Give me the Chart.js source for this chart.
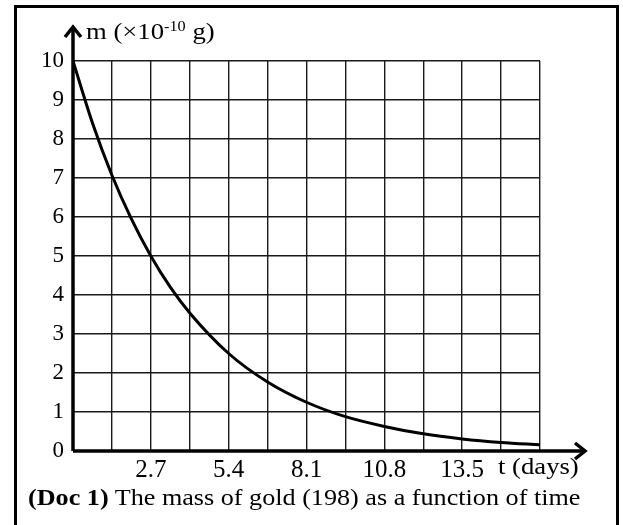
<!DOCTYPE html>
<html>
<head>
<meta charset="utf-8">
<script src="https://cdn.jsdelivr.net/npm/chart.js@4"></script>
<style>
  html, body { margin: 0; padding: 0; background: #fff; }
  body { width: 623px; height: 525px; position: relative; overflow: hidden; font-family: "Liberation Serif", serif; }
  #frame { position: absolute; left: 14px; top: 5px; width: 605px; height: 540px; box-sizing: border-box; border: 3px solid #000; }
  #myChart { position: absolute; left: 0; top: 0; }
  .lbl { position: absolute; font-size: 23px; color: #000; white-space: nowrap; transform-origin: 0 0; }
  .lbl sup { font-size: 14px; vertical-align: 0; position: relative; top: -8px; }
</style>
</head>
<body>
<div id="frame"></div>
<canvas id="myChart" width="623" height="525"></canvas>
<div class="lbl" id="yTitle" style="left:86px; top:19px; transform:scaleX(1.16);">m (×10<sup>-10</sup> g)</div>
<div class="lbl" id="xTitle" style="left:498px; top:454px; transform:scaleX(1.16);">t (days)</div>
<div class="lbl" id="caption" style="left:28px; top:484px; font-size:24px; transform:scaleX(1.09);"><b>(Doc 1)</b> The mass of gold (198) as a function of time</div>
<script>
// time in days and mass (x 10^-10 g)
const days = [0, 0.675, 1.35, 2.025, 2.7, 3.375, 4.05, 5.4, 6.75, 8.1, 9.45, 10.8, 12.15, 13.5, 14.85, 16.2];
const mass = [10, 8.41, 7.07, 5.95, 5, 4.2, 3.54, 2.5, 1.77, 1.25, 0.88, 0.63, 0.44, 0.31, 0.22, 0.16];

// grid lines every 1.35 days, labels on every second one
const xGrid = [0, 1.35, 2.7, 4.05, 5.4, 6.75, 8.1, 9.45, 10.8, 12.15, 13.5, 14.85, 16.2];
const xTickLabels = ['2.7', '5.4', '8.1', '10.8', '13.5'];
const yTicks = [0, 1, 2, 3, 4, 5, 6, 7, 8, 9, 10];

const ctx = document.getElementById('myChart');

// axis arrows sticking out of the plot area
const arrows = {
    id: 'arrows',
    afterDraw(chart) {
        const c = chart.ctx;
        const a = chart.chartArea;
        c.save();
        c.strokeStyle = '#000';
        c.lineWidth = 3.5;
        c.lineCap = 'butt';
        c.lineJoin = 'miter';
        // x axis
        c.beginPath();
        c.moveTo(a.left, a.bottom);
        c.lineTo(585, a.bottom);
        c.stroke();
        c.beginPath();
        c.moveTo(575, a.bottom - 8);
        c.lineTo(585, a.bottom);
        c.lineTo(575, a.bottom + 8);
        c.stroke();
        // y axis
        c.beginPath();
        c.moveTo(a.left, a.bottom);
        c.lineTo(a.left, 27);
        c.stroke();
        c.beginPath();
        c.moveTo(a.left - 8, 37);
        c.lineTo(a.left, 27);
        c.lineTo(a.left + 8, 37);
        c.stroke();
        c.restore();
    }
};

const myChart = new Chart(ctx, {
    type: 'line',
    data: {
        datasets: [{
            data: days.map((d, i) => ({ x: d, y: mass[i] })),
            borderColor: '#000',
            borderWidth: 3,
            pointRadius: 0,
            cubicInterpolationMode: 'monotone',
            fill: false
        }]
    },
    options: {
        responsive: false,
        animation: false,
        devicePixelRatio: 1,
        layout: { padding: { top: 61, right: 83, left: 0, bottom: 0 } },
        plugins: {
            legend: { display: false },
            tooltip: { enabled: false }
        },
        scales: {
            x: {
                type: 'linear',
                min: 0,
                max: 16.2,
                afterBuildTicks: (scale) => { scale.ticks = xGrid.map(v => ({ value: v })); },
                afterFit: (scale) => { scale.height = 74; },
                grid: { color: '#1a1a1a', lineWidth: 1.4, drawTicks: false },
                border: { display: false },
                ticks: {
                    autoSkip: false,
                    maxRotation: 0,
                    padding: 4,
                    color: '#000',
                    font: { family: 'Liberation Serif', size: 25 },
                    callback: (v) => xTickLabels.includes(v.toFixed(1)) ? v.toFixed(1) : ''
                }
            },
            y: {
                min: 0,
                max: 10,
                afterBuildTicks: (scale) => { scale.ticks = yTicks.map(v => ({ value: v })); },
                afterFit: (scale) => { scale.width = 73; },
                grid: { color: '#1a1a1a', lineWidth: 1.4, drawTicks: false },
                border: { display: false },
                ticks: {
                    padding: 9,
                    color: '#000',
                    font: { family: 'Liberation Serif', size: 23 },
                    callback: (v) => String(v)
                }
            }
        }
    },
    plugins: [arrows]
});
</script>
</body>
</html>
